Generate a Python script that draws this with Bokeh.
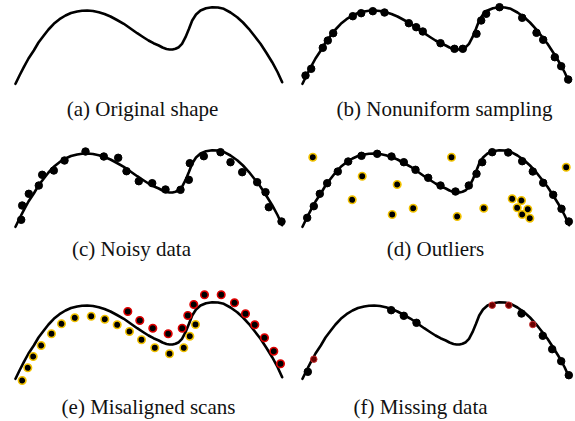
from bokeh.plotting import figure
from bokeh.layouts import gridplot
from bokeh.models import Range1d
from bokeh.core.properties import value
from bokeh.embed import file_html
from bokeh.resources import INLINE

# ---- shared shape ----
curve_x = [15, 19, 23.3, 28, 33.3, 38, 43.3, 48, 53.3, 59, 65, 70.5, 76.7, 81.5, 86.7, 92.5,
           98.3, 104, 110, 116.5, 123.3, 130, 136.7, 142.5, 148, 153, 158.3, 162, 166, 169,
           172, 175, 178.3, 181.5, 185, 188.5, 191.7, 195.5, 200, 205.5, 211.7, 217.5, 223.3,
           230, 236.7, 242.5, 248.3, 254, 260, 266, 271.7, 277, 281.7]
curve_y = [0.7, 9, 17.3, 26, 34, 42, 49, 55, 60.7, 65.3, 69, 71.5, 73, 73.8, 74, 73.5,
           72.3, 70.5, 68, 64.5, 60.7, 56, 51.3, 47.5, 44, 41.3, 39, 37, 35.5, 35,
           35, 35.8, 37.3, 40.7, 47.3, 55.7, 64, 70, 74, 76.3, 77.3, 77, 75.7,
           72, 67.3, 62, 55.7, 48.5, 40.7, 31.5, 22.3, 12.5, 2.3]

# ---- (b) nonuniform sampling ----
b_x = [18, 23.7, 35.3, 40.3, 45.7, 65.3, 73.7, 85.3, 97, 121.3, 128.7, 135.3, 153, 167,
       175.3, 189, 193.7, 198.7, 212, 234.7, 249, 255.7, 267.3, 273.7, 280.7]
b_y = [9, 15.7, 36.7, 44, 51.3, 68.3, 71.3, 73.3, 72, 61.3, 57.3, 53, 41.3, 35.7,
       35.7, 50.7, 64, 70.7, 77.3, 66.7, 51.7, 44.7, 27.3, 18.3, 5]

# ---- (c) noisy data ----
c_x = [20.7, 21.7, 28.3, 38.3, 41.7, 53.3, 64, 85, 103.3, 117.7, 126, 138.3, 151.7, 165,
       180, 188.3, 189.3, 203.3, 220, 230, 241.7, 256.7, 265, 268.3, 281]
c_y = [7.7, 22, 33.7, 42, 52.7, 57, 67, 76, 71, 69.7, 56.3, 46.3, 44.3, 38,
       37.7, 47.7, 64.3, 71.3, 75.3, 65.3, 55.3, 45.3, 35.3, 20.3, 6]

# ---- (d) outliers ----
d_x = [19.7, 26.3, 32.3, 39.7, 50.3, 60.7, 74, 89.7, 104, 116.3, 128, 140.7, 153, 168,
       181.3, 189, 194.7, 204.7, 220.7, 234.7, 245.3, 255.7, 265.7, 274, 281.3]
d_y = [9.7, 21.3, 33.7, 44.3, 56, 66, 71.7, 73.7, 71, 65.3, 57.7, 49.7, 42, 36,
       42, 53.7, 65.3, 75.3, 75, 66.3, 56, 44.7, 32.7, 18.7, 6]
out_x = [25.3, 74.7, 109.7, 64.7, 104.7, 125.7, 164, 169.7, 196.3, 224.7, 234, 229.7,
         240.3, 234.7, 242.3, 278.7]
out_y = [70.3, 51.3, 43, 27.7, 13, 19.3, 70.3, 11, 19.3, 28.7, 27, 19.7,
         18.3, 13, 9.3, 60.3]

# ---- (e) misaligned scans ----
e1_x = [21.7, 27.3, 32.7, 40.7, 51, 61, 74.3, 90.7, 104.3, 116.7, 129, 141, 154.3, 169,
        183.3, 189.3, 195]
e1_y = [-1, 11.7, 23, 34, 45.7, 55.7, 61.7, 63.3, 60.3, 54.7, 48, 39.7, 31.7, 25.7,
        31.7, 43.3, 55]
e2_x = [127.3, 139.3, 152.3, 167.7, 181.7, 187.3, 193.3, 204, 220.7, 234, 245, 254.3,
        264, 273.3, 280]
e2_y = [68, 59, 51.3, 45.7, 51.3, 64, 75, 84.7, 84.7, 76.7, 65.7, 54.7,
        41.7, 28.3, 15.7]

# ---- (f) missing data ----
f_x = [20.3, 103.7, 116.3, 129, 234, 255.3, 264.7, 273.7, 281.3]
f_y = [7.7, 69.3, 63.7, 56.7, 66, 43.7, 30.3, 18.3, 4.3]
fm_x = [26.3, 204.7, 221.3, 245.3]
fm_y = [20.3, 74.3, 74.3, 55]

captions = ["(a) Original shape", "(b) Nonuniform sampling", "(c) Noisy data",
            "(d) Outliers", "(e) Misaligned scans", "(f) Missing data"]
caption_x = [142, 157, 131, 148, 148, 133]
caption_y = [-24.3, -24.3, -21.3, -21.3, -27.7, -27.3]

FONT = value("Liberation Serif")
COL_W = [287, 288]
ROW_H = [126, 140, 155]
X_RANGES = [(0, 287), (0, 288)]
Y_RANGES = [(-42, 84), (-39, 101), (-42, 113)]


def panel(r, c, idx):
    p = figure(width=COL_W[c], height=ROW_H[r],
               x_range=Range1d(*X_RANGES[c]), y_range=Range1d(*Y_RANGES[r]),
               output_backend="svg", toolbar_location=None,
               x_axis_location=None, y_axis_location=None, min_border=0,
               outline_line_color=None, background_fill_color="white",
               border_fill_color="white")
    p.xgrid.grid_line_color = None
    p.ygrid.grid_line_color = None
    p.line(curve_x, curve_y, line_color="black", line_width=2.6, line_join="round",
           line_cap="round")
    p.text(x=[caption_x[idx]], y=[caption_y[idx]], text=[captions[idx]],
           text_font=FONT, text_font_size="21px", text_align="center",
           text_baseline="middle", text_color="#111111")
    return p


pa = panel(0, 0, 0)
pb = panel(0, 1, 1)
pb.scatter(b_x, b_y, size=7.5, fill_color="black", line_color="black")
pc = panel(1, 0, 2)
pc.scatter(c_x, c_y, size=7.5, fill_color="black", line_color="black")
pd = panel(1, 1, 3)
pd.scatter(d_x, d_y, size=7.5, fill_color="black", line_color="black")
pd.scatter(out_x, out_y, size=7.5, fill_color="black", line_color="#f2c200", line_width=1.6)
pe = panel(2, 0, 4)
pe.scatter(e1_x, e1_y, size=7.5, fill_color="black", line_color="#f2c200", line_width=1.6)
pe.scatter(e2_x, e2_y, size=7.5, fill_color="black", line_color="#e00000", line_width=1.6)
pf = panel(2, 1, 5)
pf.scatter(f_x, f_y, size=7.5, fill_color="black", line_color="black")
pf.scatter(fm_x, fm_y, size=6.5, fill_color="#6a0000", line_color="#c83030", line_width=1)

grid = gridplot([[pa, pb], [pc, pd], [pe, pf]], toolbar_location=None)

open("out.html", "w").write(file_html(grid, INLINE))
